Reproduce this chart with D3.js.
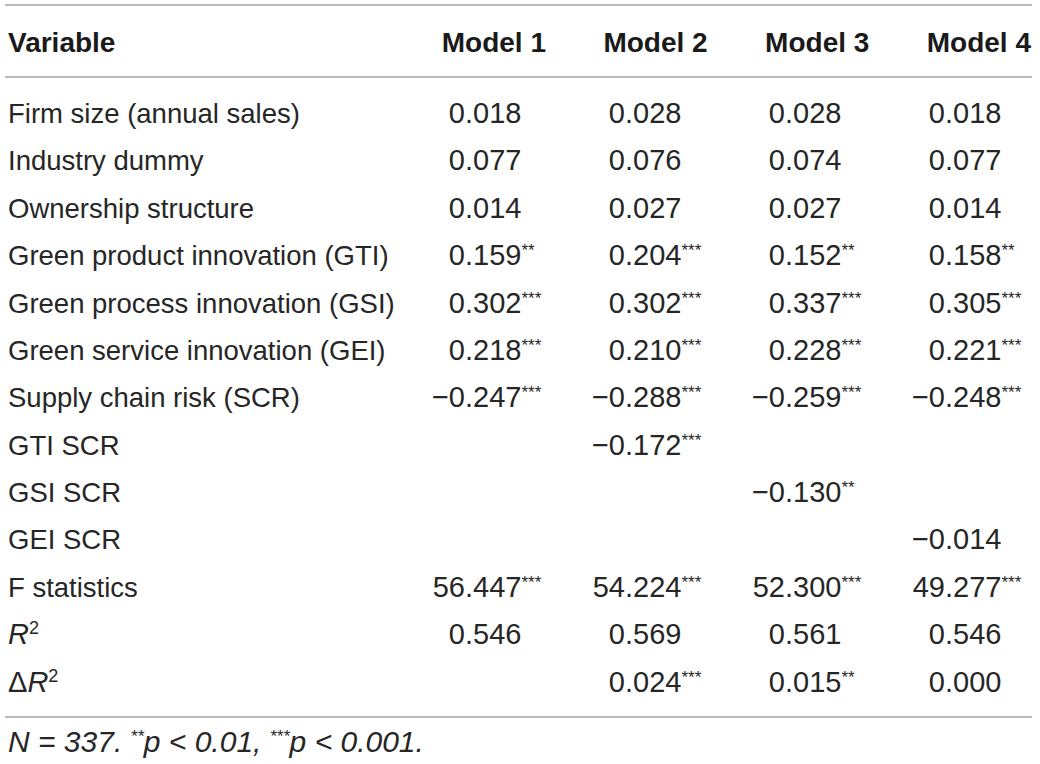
<!DOCTYPE html>
<html>
<head>
<meta charset="utf-8">
<script src="https://cdn.jsdelivr.net/npm/d3@7"></script>
<style>
  html, body { margin: 0; padding: 0; background: #fff; }
  svg { display: block; }
  text { font-family: "Liberation Sans", Arial, Helvetica, sans-serif; fill: #262626; }
  text.bold { fill: #1a1a1a; }
</style>
</head>
<body>
<svg id="chart" width="1040" height="764"></svg>
<script>
// ---------- data ----------
const headerLabel = "Variable";
const models = ["Model 1", "Model 2", "Model 3", "Model 4"];
const variables = [
  "Firm size (annual sales)",
  "Industry dummy",
  "Ownership structure",
  "Green product innovation (GTI)",
  "Green process innovation (GSI)",
  "Green service innovation (GEI)",
  "Supply chain risk (SCR)",
  "GTI SCR",
  "GSI SCR",
  "GEI SCR",
  "F statistics",
  "R2",
  "dR2"
];
const model1Values = [0.018, 0.077, 0.014, 0.159, 0.302, 0.218, -0.247, null, null, null, 56.447, 0.546, null];
const model1Stars  = ["", "", "", "**", "***", "***", "***", "", "", "", "***", "", ""];
const model2Values = [0.028, 0.076, 0.027, 0.204, 0.302, 0.210, -0.288, -0.172, null, null, 54.224, 0.569, 0.024];
const model2Stars  = ["", "", "", "***", "***", "***", "***", "***", "", "", "***", "", "***"];
const model3Values = [0.028, 0.074, 0.027, 0.152, 0.337, 0.228, -0.259, null, -0.130, null, 52.300, 0.561, 0.015];
const model3Stars  = ["", "", "", "**", "***", "***", "***", "", "**", "", "***", "", "**"];
const model4Values = [0.018, 0.077, 0.014, 0.158, 0.305, 0.221, -0.248, null, null, -0.014, 49.277, 0.546, 0.000];
const model4Stars  = ["", "", "", "**", "***", "***", "***", "", "", "", "***", "", ""];
const footnoteParts = [
  { t: "N = 337. ", sup: false },
  { t: "**", sup: true },
  { t: "p < 0.01, ", sup: false },
  { t: "***", sup: true },
  { t: "p < 0.001.", sup: false }
];

// ---------- layout ----------
const LABEL_FS = 27.5;   // row label font size
const NUM_FS = 29;       // numeric cell font size
const HEAD_FS = 28;      // header font size
const FOOT_FS = 30;      // footnote font size
const SUP = 17;          // superscript font size
const svg = d3.select("#chart");

const seriesValues = [model1Values, model2Values, model3Values, model4Values];
const seriesStars  = [model1Stars, model2Stars, model3Stars, model4Stars];

const y = d3.scalePoint().domain(variables).range([123, 691.5]);
const xDec = d3.scalePoint().domain(models).range([465, 945]);    // decimal point positions
const xHead = d3.scalePoint().domain(models).range([546, 1031]);  // header right edges
const lineX = [5, 1032];
const ruleColor = "#a3a3a3";

// rules
[5, 77, 717].forEach(yy => {
  svg.append("line")
    .attr("x1", lineX[0]).attr("x2", lineX[1])
    .attr("y1", yy).attr("y2", yy)
    .attr("stroke", ruleColor).attr("stroke-width", 1.5);
});

// header
svg.append("text")
  .attr("class", "bold")
  .attr("x", 8).attr("y", 52)
  .attr("font-size", HEAD_FS).attr("font-weight", "bold")
  .text(headerLabel);
svg.selectAll("text.head").data(models).join("text")
  .attr("class", "head bold")
  .attr("x", d => xHead(d)).attr("y", 52)
  .attr("text-anchor", "end")
  .attr("font-size", HEAD_FS).attr("font-weight", "bold")
  .text(d => d);

// row labels
variables.forEach(v => {
  const t = svg.append("text").attr("x", 8).attr("y", y(v)).attr("font-size", LABEL_FS);
  if (v === "R2") {
    t.attr("font-size", NUM_FS);
    t.append("tspan").attr("font-style", "italic").text("R");
    t.append("tspan").attr("font-size", 18).attr("dy", -10).text("2");
  } else if (v === "dR2") {
    t.attr("font-size", NUM_FS);
    t.append("tspan").text("\u0394");
    t.append("tspan").attr("font-style", "italic").text("R");
    t.append("tspan").attr("font-size", 18).attr("dy", -10).text("2");
  } else {
    t.text(v);
  }
});

// values, decimal-aligned
const fmt = d3.format(".3f");
models.forEach((m, j) => {
  const vals = seriesValues[j], stars = seriesStars[j];
  variables.forEach((v, i) => {
    const val = vals[i];
    if (val === null) return;
    const s = fmt(val).replace("-", "\u2013");
    const k = s.indexOf(".");
    svg.append("text")
      .attr("x", xDec(m)).attr("y", y(v))
      .attr("text-anchor", "end").attr("font-size", NUM_FS)
      .text(s.slice(0, k));
    const t = svg.append("text")
      .attr("x", xDec(m)).attr("y", y(v))
      .attr("text-anchor", "start").attr("font-size", NUM_FS);
    t.append("tspan").text(s.slice(k));
    if (stars[i]) {
      t.append("tspan").attr("font-size", SUP).attr("dy", -9).text(stars[i]);
    }
  });
});

// footnote
const fn = svg.append("text")
  .attr("x", 8).attr("y", 752)
  .attr("font-size", FOOT_FS).attr("font-style", "italic");
let raised = false;
footnoteParts.forEach(p => {
  const ts = fn.append("tspan").text(p.t);
  if (p.sup && !raised) { ts.attr("font-size", SUP).attr("dy", -10); raised = true; }
  else if (!p.sup && raised) { ts.attr("dy", 10); raised = false; }
});
</script>
</body>
</html>
